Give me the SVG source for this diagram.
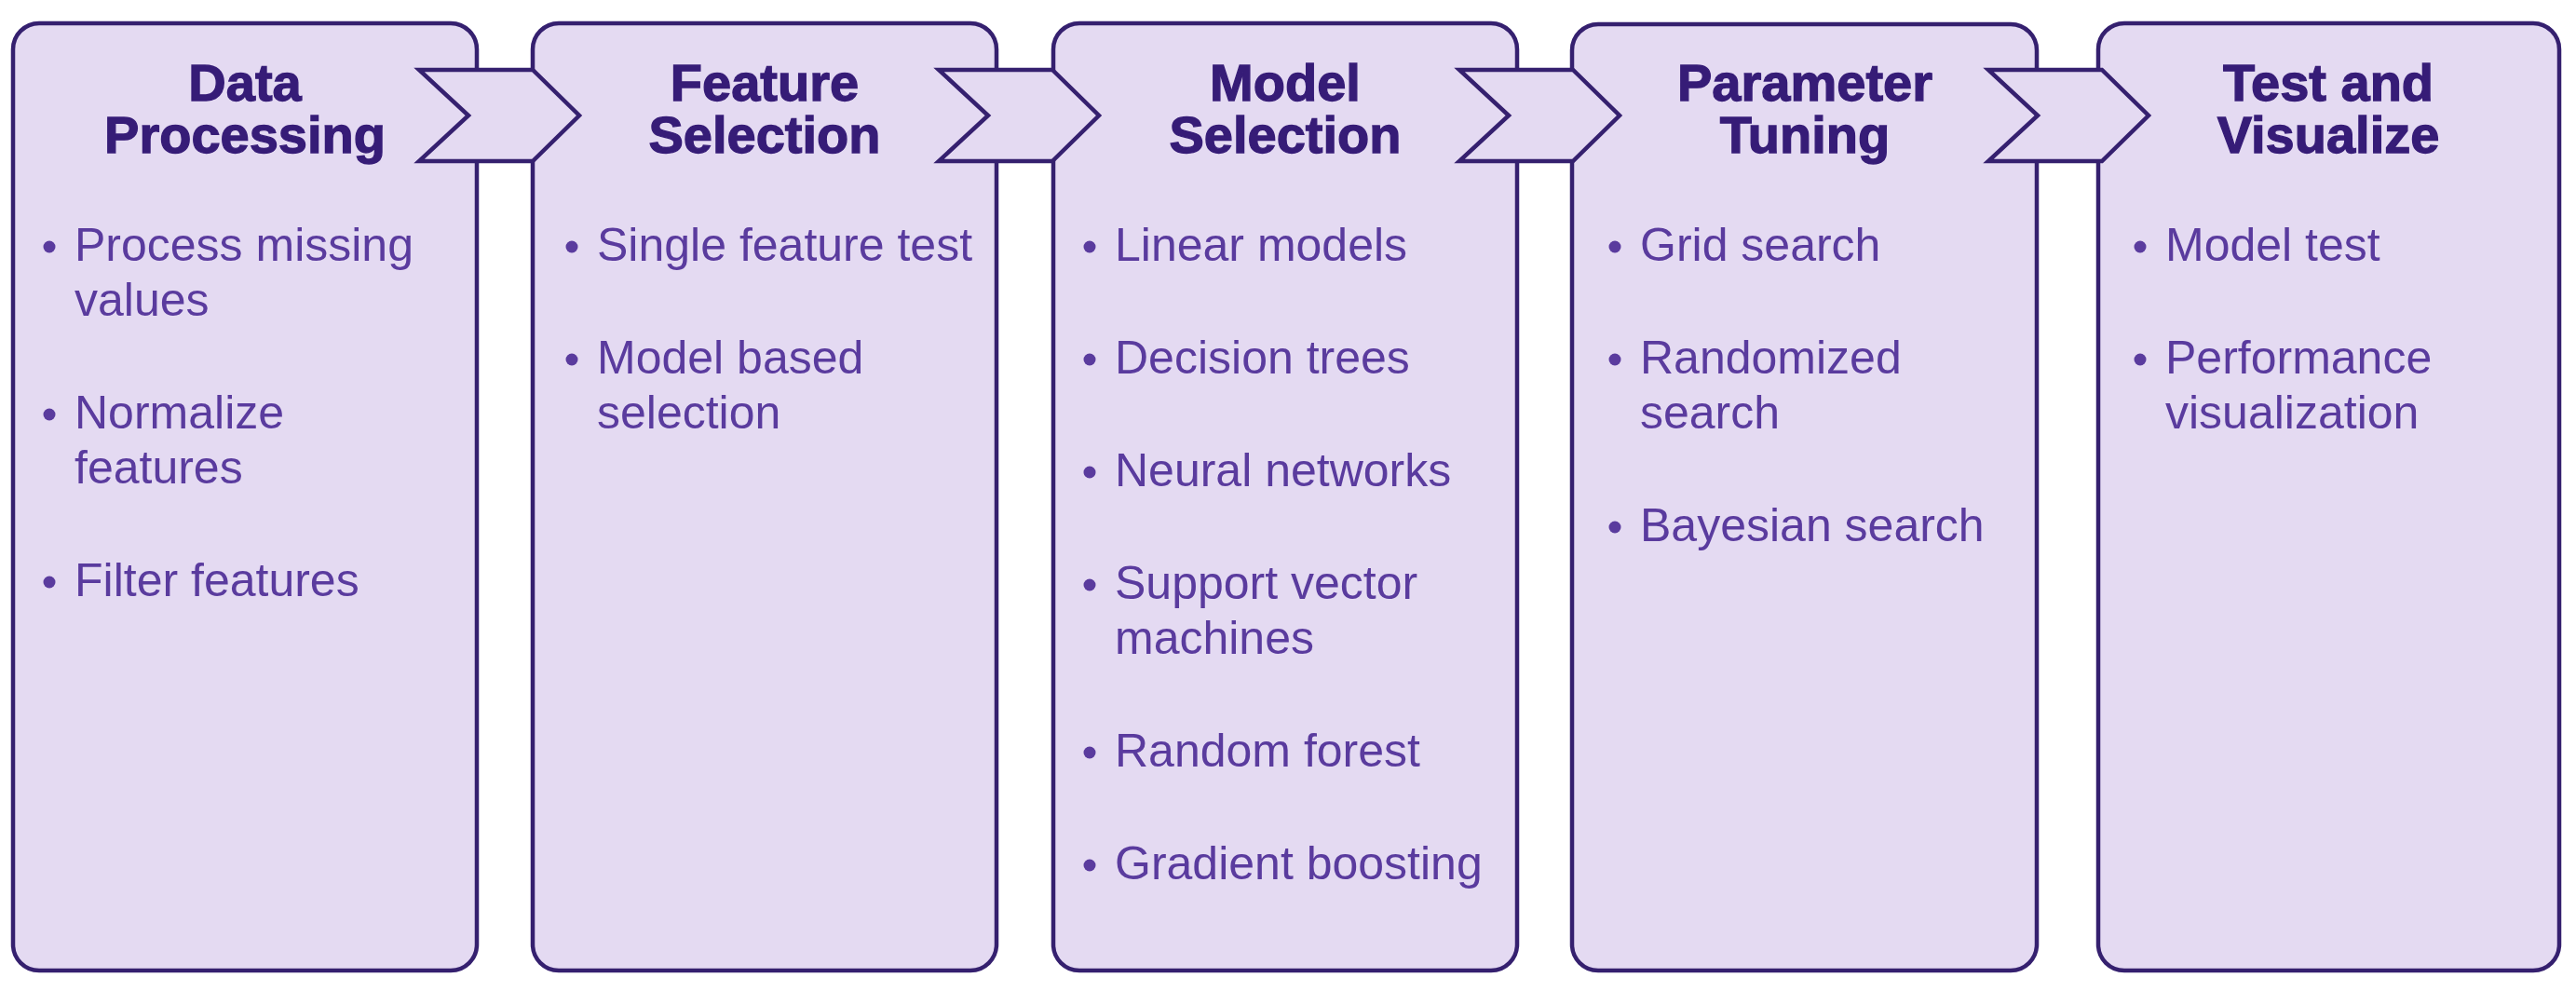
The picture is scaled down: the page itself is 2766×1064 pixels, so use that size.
<svg xmlns="http://www.w3.org/2000/svg" width="2766" height="1064" viewBox="0 0 2766 1064">
<style>
.box{fill:#E4DAF2;stroke:#35206F;stroke-width:4.5}
.chev{fill:#E4DAF2;stroke:#35206F;stroke-width:4.5;stroke-linejoin:miter}
.title{font-family:"Liberation Sans",Arial,sans-serif;font-weight:bold;font-size:56px;fill:#361C77;stroke:#361C77;stroke-width:1.3;text-anchor:middle}
.item{font-family:"Liberation Sans",Arial,sans-serif;font-size:50px;fill:#5A3B9E}
.dot{fill:#5A3B9E}
</style>
<rect width="2766" height="1064" fill="#FFFFFF"/>
<g id="node-data-processing">
<rect class="box" x="14" y="25" width="498" height="1017" rx="28"/>
<text class="title" x="263" y="108">Data<tspan x="263" y="164">Processing</tspan></text>
<circle class="dot" cx="53" cy="265" r="6.5"/>
<text class="item" x="80" y="280">Process missing<tspan x="80" y="339">values</tspan></text>
<circle class="dot" cx="53" cy="445" r="6.5"/>
<text class="item" x="80" y="460">Normalize<tspan x="80" y="519">features</tspan></text>
<circle class="dot" cx="53" cy="625" r="6.5"/>
<text class="item" x="80" y="640">Filter features</text>
</g>
<g id="node-feature-selection">
<rect class="box" x="572" y="25" width="498" height="1017" rx="28"/>
<text class="title" x="821" y="108">Feature<tspan x="821" y="164">Selection</tspan></text>
<circle class="dot" cx="614" cy="265" r="6.5"/>
<text class="item" x="641" y="280">Single feature test</text>
<circle class="dot" cx="614" cy="386" r="6.5"/>
<text class="item" x="641" y="401">Model based<tspan x="641" y="460">selection</tspan></text>
</g>
<g id="node-model-selection">
<rect class="box" x="1131" y="25" width="498" height="1017" rx="28"/>
<text class="title" x="1380" y="108">Model<tspan x="1380" y="164">Selection</tspan></text>
<circle class="dot" cx="1170" cy="265" r="6.5"/>
<text class="item" x="1197" y="280">Linear models</text>
<circle class="dot" cx="1170" cy="386" r="6.5"/>
<text class="item" x="1197" y="401">Decision trees</text>
<circle class="dot" cx="1170" cy="507" r="6.5"/>
<text class="item" x="1197" y="522">Neural networks</text>
<circle class="dot" cx="1170" cy="628" r="6.5"/>
<text class="item" x="1197" y="643">Support vector<tspan x="1197" y="702">machines</tspan></text>
<circle class="dot" cx="1170" cy="808" r="6.5"/>
<text class="item" x="1197" y="823">Random forest</text>
<circle class="dot" cx="1170" cy="929" r="6.5"/>
<text class="item" x="1197" y="944">Gradient boosting</text>
</g>
<g id="node-parameter-tuning">
<rect class="box" x="1688" y="26" width="499" height="1016" rx="28"/>
<text class="title" x="1938" y="108">Parameter<tspan x="1938" y="164">Tuning</tspan></text>
<circle class="dot" cx="1734" cy="265" r="6.5"/>
<text class="item" x="1761" y="280">Grid search</text>
<circle class="dot" cx="1734" cy="386" r="6.5"/>
<text class="item" x="1761" y="401">Randomized<tspan x="1761" y="460">search</tspan></text>
<circle class="dot" cx="1734" cy="566" r="6.5"/>
<text class="item" x="1761" y="581">Bayesian search</text>
</g>
<g id="node-test-visualize">
<rect class="box" x="2253" y="25" width="495" height="1017" rx="28"/>
<text class="title" x="2500" y="108">Test and<tspan x="2500" y="164">Visualize</tspan></text>
<circle class="dot" cx="2298" cy="265" r="6.5"/>
<text class="item" x="2325" y="280">Model test</text>
<circle class="dot" cx="2298" cy="386" r="6.5"/>
<text class="item" x="2325" y="401">Performance<tspan x="2325" y="460">visualization</tspan></text>
</g>
<g id="connectors">
<polygon class="chev" points="450,75 572,75 622,124 572,173 450,173 503,124"/>
<polygon class="chev" points="1008,75 1130,75 1180,124 1130,173 1008,173 1061,124"/>
<polygon class="chev" points="1567,75 1689,75 1739,124 1689,173 1567,173 1620,124"/>
<polygon class="chev" points="2135,75 2257,75 2307,124 2257,173 2135,173 2188,124"/>
</g>
</svg>
